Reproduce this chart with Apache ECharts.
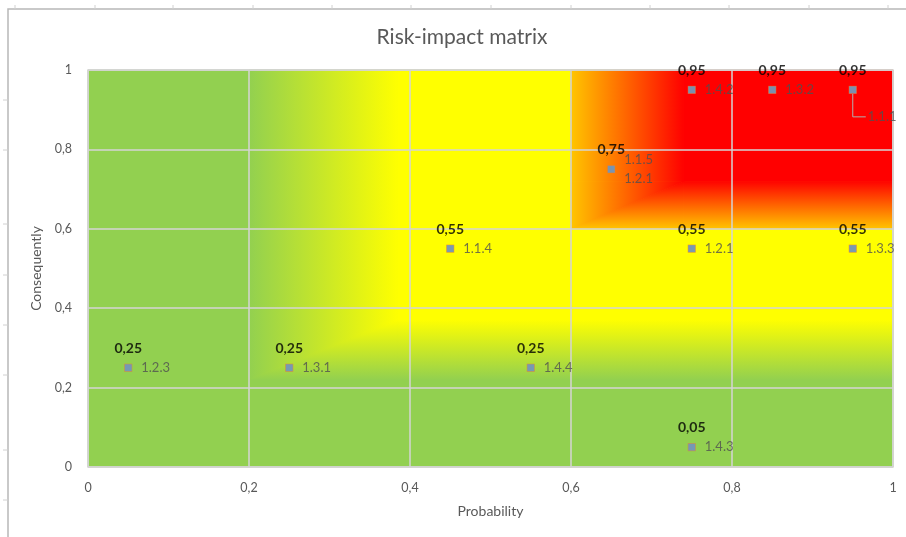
<!DOCTYPE html>
<html>
<head>
<meta charset="utf-8">
<title>Risk-impact matrix</title>
<script src="https://cdn.jsdelivr.net/npm/echarts@6/dist/echarts.min.js"></script>
<style>
  html, body { margin: 0; padding: 0; background: #ffffff; }
  #chart { width: 906px; height: 537px; }
</style>
</head>
<body>
<div id="chart"></div>
<script>
// Risks: identifier, probability (x) and consequence (y)
const riskIds     = ['1.4.2', '1.3.2', '1.1.1', '1.1.5\n1.2.1', '1.1.4', '1.2.1', '1.3.3', '1.2.3', '1.3.1', '1.4.4', '1.4.3'];
const probability = [0.75, 0.85, 0.95, 0.65, 0.45, 0.75, 0.95, 0.05, 0.25, 0.55, 0.75];
const consequence = [0.95, 0.95, 0.95, 0.75, 0.55, 0.55, 0.55, 0.25, 0.25, 0.25, 0.05];

// Axis ticks
const axisMin = 0;
const axisMax = 1;
const axisStep = 0.2;

// Risk that gets a callout label with a leader line
const calloutId = '1.1.1';

// Heat zones of the matrix background (in axis units)
const GREEN = '#92d050';
const YELLOW = '#ffff00';
const AMBER = '#ffc600';
const RED = '#ff0000';

const lowX0 = 0.2, lowX1 = 0.385, lowY0 = 0.22, lowY1 = 0.37;
const highX0 = 0.6, highX1 = 0.74, highY0 = 0.6, highY1 = 0.72;

const zones = [
  { pts: [[0, 0], [1, 0], [1, 1], [0, 1]], fill: GREEN },
  { pts: [[lowX1, lowY1], [1, lowY1], [1, 1], [lowX1, 1]], fill: YELLOW },
  // green -> yellow to the right
  { pts: [[lowX0, lowY1], [lowX1, lowY1], [lowX1, 1], [lowX0, 1]], dir: 'x', from: GREEN, to: YELLOW },
  // green -> yellow upwards
  { pts: [[lowX1, lowY0], [1, lowY0], [1, lowY1], [lowX1, lowY1]], dir: 'y', from: GREEN, to: YELLOW },
  // corner where both fades meet
  { pts: [[lowX0, lowY0], [lowX0, lowY1], [lowX1, lowY1]], dir: 'x', from: GREEN, to: YELLOW },
  { pts: [[lowX0, lowY0], [lowX1, lowY0], [lowX1, lowY1]], dir: 'y', from: GREEN, to: YELLOW },
  // red zone
  { pts: [[highX1, highY1], [1, highY1], [1, 1], [highX1, 1]], fill: RED },
  { pts: [[highX0, highY1], [highX1, highY1], [highX1, 1], [highX0, 1]], dir: 'x', from: AMBER, to: RED },
  { pts: [[highX1, highY0], [1, highY0], [1, highY1], [highX1, highY1]], dir: 'y', from: AMBER, to: RED },
  { pts: [[highX0, highY0], [highX0, highY1], [highX1, highY1]], dir: 'x', from: AMBER, to: RED },
  { pts: [[highX0, highY0], [highX1, highY0], [highX1, highY1]], dir: 'y', from: AMBER, to: RED }
];

function zoneFill(z) {
  if (z.fill) return z.fill;
  const g = z.dir === 'x'
    ? { x: 0, y: 0, x2: 1, y2: 0 }
    : { x: 0, y: 1, x2: 0, y2: 0 };
  return Object.assign({ type: 'linear', colorStops: [
    { offset: 0, color: z.from },
    { offset: 1, color: z.to }
  ] }, g);
}

const fmt = v => String(v).replace('.', ',');
const FONT = 'Lato, "Open Sans", sans-serif';

const points = probability.map((p, i) => [p, consequence[i]]);
const calloutIdx = riskIds.indexOf(calloutId);

const nameData = riskIds.map((id, i) => {
  const item = { name: id, value: points[i] };
  if (i === calloutIdx) {
    item.label = { offset: [2, 27] };
  }
  return item;
});

const chart = echarts.init(document.getElementById('chart'), null, { renderer: 'canvas' });

// Frame of the chart object and the sheet grid behind it
const frameGraphics = [
  { type: 'polyline', shape: { points: [[8, 537], [8, 9], [906, 9]] },
    style: { stroke: '#b8b8b8', lineWidth: 1.5, fill: null }, silent: true }
];
[15, 95, 173, 253, 332, 411, 491, 571, 650, 729, 809, 888].forEach(x => {
  frameGraphics.push({ type: 'line', shape: { x1: x, y1: 5, x2: x, y2: 9 },
    style: { stroke: '#d0d0d0', lineWidth: 1 }, silent: true });
});
[100, 150, 224, 275, 325, 375, 450, 500].forEach(y => {
  frameGraphics.push({ type: 'line', shape: { x1: 3, y1: y, x2: 8, y2: y },
    style: { stroke: '#d0d0d0', lineWidth: 1 }, silent: true });
});

const option = {
  animation: false,
  backgroundColor: '#ffffff',
  textStyle: { fontFamily: FONT },
  title: {
    text: 'Risk-impact matrix',
    left: 457,
    textAlign: 'center',
    top: 22,
    padding: 5,
    textStyle: { fontFamily: FONT, fontSize: 21, fontWeight: 'normal', color: '#595959' }
  },
  graphic: frameGraphics,
  grid: {
    left: 88, right: 13, top: 70, bottom: 70,
    show: true, z: 3,
    backgroundColor: 'transparent',
    borderColor: '#d4d4d4', borderWidth: 1.5
  },
  xAxis: {
    type: 'value', min: axisMin, max: axisMax, interval: axisStep, z: 3,
    name: 'Probability', nameLocation: 'middle', nameGap: 37,
    nameTextStyle: { fontFamily: FONT, fontSize: 14, color: '#595959' },
    axisLine: { show: false }, axisTick: { show: false },
    axisLabel: { margin: 14, fontSize: 12.5, color: '#595959', formatter: fmt },
    splitLine: { show: true, lineStyle: { color: '#d4d4d4', width: 1.5 } }
  },
  yAxis: {
    type: 'value', min: axisMin, max: axisMax, interval: axisStep, z: 3,
    name: 'Consequently', nameLocation: 'middle', nameGap: 43,
    nameTextStyle: { fontFamily: FONT, fontSize: 14, color: '#595959' },
    axisLine: { show: false }, axisTick: { show: false },
    axisLabel: { margin: 16, fontSize: 12.5, color: '#595959', formatter: fmt },
    splitLine: { show: true, lineStyle: { color: '#d4d4d4', width: 1.5 } }
  },
  series: [
    {
      type: 'custom',
      name: 'zones',
      silent: true,
      z: 1,
      data: zones.map(z => z.pts[0]),
      renderItem: (params, api) => {
        const z = zones[params.dataIndex];
        const fill = zoneFill(z);
        return {
          type: 'polygon',
          shape: { points: z.pts.map(p => api.coord(p)) },
          style: { fill: fill, stroke: fill, lineWidth: 1 }
        };
      }
    },
    {
      type: 'custom',
      name: 'callout',
      silent: true,
      z: 4,
      data: [points[calloutIdx]],
      renderItem: (params, api) => {
        const p = api.coord([api.value(0), api.value(1)]);
        return {
          type: 'polyline',
          shape: { points: [[p[0], p[1] + 4], [p[0], p[1] + 27], [p[0] + 13, p[1] + 27]] },
          style: { stroke: '#b0b0b0', lineWidth: 1, fill: null }
        };
      }
    },
    {
      type: 'scatter',
      name: 'Risk',
      z: 5,
      symbol: 'rect',
      symbolSize: 8,
      itemStyle: { color: '#ed7d31' },
      data: nameData,
      label: {
        show: true,
        position: 'right',
        distance: 9,
        formatter: p => p.name,
        fontFamily: FONT,
        fontSize: 13,
        lineHeight: 19,
        color: '#505050'
      }
    },
    {
      type: 'scatter',
      name: 'Consequence',
      z: 6,
      symbol: 'rect',
      symbolSize: 7,
      itemStyle: { color: '#5b9bd5' },
      data: points,
      label: {
        show: true,
        position: 'top',
        distance: 9,
        formatter: p => fmt(p.value[1]),
        fontFamily: FONT,
        fontSize: 14,
        fontWeight: 'bold',
        color: '#000000'
      }
    }
  ]
};

chart.setOption(option);
</script>
</body>
</html>
